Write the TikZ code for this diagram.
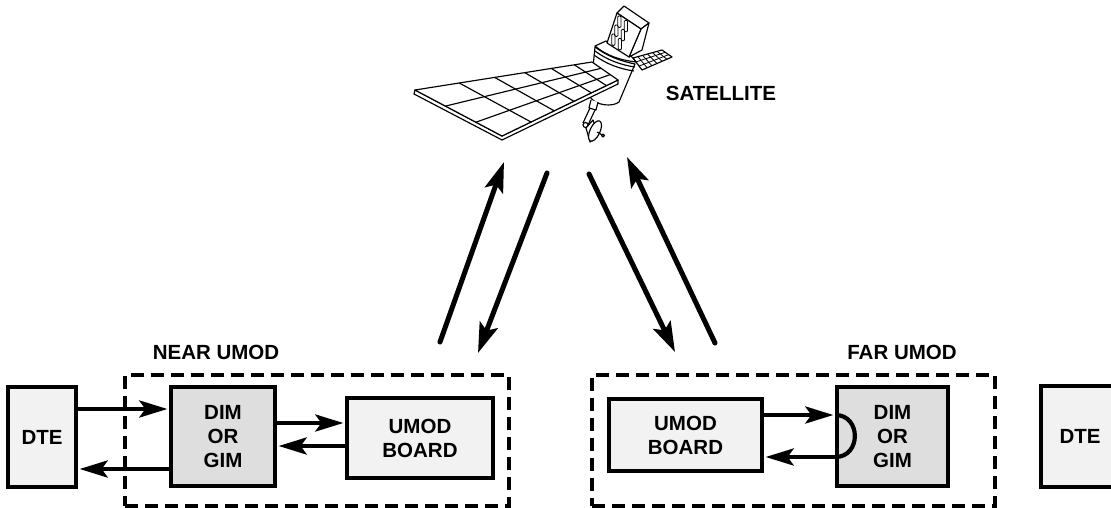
\documentclass[tikz,border=0pt]{standalone}
\usepackage{fontspec}
\setmainfont{Liberation Sans}
\usetikzlibrary{arrows.meta,calc}
\definecolor{boxpale}{gray}{0.95}
\definecolor{boxgray}{gray}{0.87}

\begin{document}
\begin{tikzpicture}[x=1pt,y=-1pt,
  lbl/.style={font=\bfseries\fontsize{20.5}{24}\selectfont},
  blk/.style={draw, line width=3.3pt, inner sep=0pt, align=center, lbl},
  pale/.style={blk, fill=boxpale},
  dark/.style={blk, fill=boxgray},
  group/.style={draw, line width=3.1pt, dash pattern=on 13pt off 7pt, inner sep=0pt},
  link/.style={line width=4.2pt, shorten >=2pt, -{Stealth[length=28pt,width=17pt,inset=6pt]}},
  beam/.style={line width=5pt, line cap=round, -{Stealth[length=30pt,width=19pt,inset=6pt]}},
  sat/.style={line width=1.15pt, line join=round},
  cell/.style={line width=0.8pt}]

\path[use as bounding box] (0,0) rectangle (1111,508);
\clip (0,0) rectangle (1111,508);

% ---------- satellite ----------
% small solar wing on the right
\coordinate (q1) at (633,58); \coordinate (q2) at (662,50);
\coordinate (q3) at (672,57); \coordinate (q4) at (642,70);
\draw[sat, fill=white] (q1)--(q2)--(q3)--(q4)--cycle;
\foreach \f in {0.17,0.33,0.5,0.67,0.83}
  \draw[cell] ($(q1)!\f!(q2)$) -- ($(q4)!\f!(q3)$);
\foreach \f in {0.33,0.67}
  \draw[cell] ($(q1)!\f!(q4)$) -- ($(q2)!\f!(q3)$);

% bus body
\draw[sat, fill=white] (595,47) -- (590,97) .. controls (596,106) and (613,107) .. (619,102)
  -- (635,64) .. controls (620,61) and (607,56) .. cycle;
% collar ring
\draw[sat, fill=white] (595,46) -- (606,41) -- (631,56) -- (636,62)
  .. controls (620,60) and (607,56) .. cycle;
\draw[sat] (595,51) .. controls (607,60) and (621,65) .. (635,67);
\draw[sat] (594,55) .. controls (606,64) and (620,69) .. (634,71);

% instrument box
\coordinate (f1) at (617,13); \coordinate (f2) at (641,29);
\coordinate (f3) at (629,57); \coordinate (f4) at (607,43);
\coordinate (t1) at (624,6);  \coordinate (r1) at (649,23);
\coordinate (r2) at (642,50);
\draw[sat, fill=white] (f1) -- (t1) -- (r1) -- (f2) -- cycle;
\draw[sat, fill=white] (f2) -- (r1) -- (r2) -- (f3) -- cycle;
\draw[sat, fill=white] (f1) -- (f2) -- (f3) -- (f4) -- cycle;
\begin{scope}[shift={(617,13)}, x={(24pt,-16pt)}, y={(-10pt,-30pt)}]
  \foreach \u in {0.06,0.33}
    \foreach \v in {0.07,0.37,0.67}
      \draw[cell, rounded corners=1pt] (\u,\v) rectangle ++(0.24,0.25);
\end{scope}

% main solar wing
\coordinate (A) at (415,90);  \coordinate (D) at (592,62);
\coordinate (C) at (618,80);  \coordinate (B) at (502,136);
\coordinate (A') at (414,94); \coordinate (B') at (502,140);
\coordinate (C') at (618,84);
\draw[sat, fill=white] (A) -- (A') -- (B') -- (C') -- (C) -- (B) -- cycle;
\draw[sat, fill=white] (A) -- (D) -- (C) -- (B) -- cycle;
\foreach \f in {0.25,0.45,0.62,0.77,0.9}
  \draw[sat] ($(A)!\f!(D)$) -- ($(B)!\f!(C)$);
\foreach \f in {0.35,0.7}
  \draw[sat] ($(A)!\f!(B)$) -- ($(D)!\f!(C)$);

% antenna
\draw[sat, fill=white] (591,100) -- (589,108) -- (596,110) -- (598,102);
\draw[sat] (590,108) -- (583,123);
\draw[sat] (595,110) -- (588,125);
\draw[sat, fill=white] (585.5,125) circle (2.5);
\draw[sat, fill=white] (586,128) -- (593,120) -- (598,135) -- (590,142) -- cycle;
\draw[sat, fill=white] (595,131) ellipse [x radius=5, y radius=11, rotate=-25];
\draw[sat] (597,132) -- (604,136);
\draw[sat, fill=white] (603,135.5) circle (1.5);

\node[lbl] (satlabel) at (721,93) {SATELLITE};

% ---------- radio links ----------
\coordinate (b1s) at (440,342); \coordinate (b1e) at (504,162);
\coordinate (b2s) at (547,173); \coordinate (b2e) at (478,353);
\coordinate (b3s) at (589,174); \coordinate (b3e) at (675,352);
\coordinate (b4s) at (715,343); \coordinate (b4e) at (627,157);
\draw[beam] (b1s) -- (b1e);
\draw[beam] (b2s) -- (b2e);
\draw[beam] (b3s) -- (b3e);
\draw[beam] (b4s) -- (b4e);

% ---------- near side ----------
\node[group, minimum width=384, minimum height=131] (near) at (317,440.5) {};
\node[lbl] (nearlabel) at (216,352) {NEAR UMOD};
\node[pale, minimum width=68, minimum height=100] (dteL) at (42,437) {DTE};
\node[dark, minimum width=104, minimum height=99] (dimL) at (223,436.5) {DIM\\OR\\GIM};
\node[pale, minimum width=146, minimum height=80] (umodL) at (420,438) {UMOD\\BOARD};

\coordinate (yA) at (0,409); \coordinate (yB) at (0,469);
\coordinate (yC) at (0,423); \coordinate (yD) at (0,446);
\draw[link] (dteL.east |- yA) -- (dimL.west |- yA);
\draw[link] (dimL.west |- yB) -- (dteL.east |- yB);
\draw[link] (dimL.east |- yC) -- (umodL.west |- yC);
\draw[link] (umodL.west |- yD) -- (dimL.east |- yD);

% ---------- far side ----------
\node[group, minimum width=403, minimum height=131] (far) at (793.5,440.5) {};
\node[lbl] (farlabel) at (902,352) {FAR UMOD};
\node[pale, minimum width=153, minimum height=72] (umodR) at (685.5,435) {UMOD\\BOARD};
\node[dark, minimum width=111, minimum height=99] (dimR) at (892.5,436.5) {DIM\\OR\\GIM};
% the right terminal runs past the page edge
\node[pale, minimum width=78, minimum height=101] (dteR) at (1080,436.5) {DTE};

\coordinate (yE) at (0,415); \coordinate (yF) at (0,457);
\draw[link] (umodR.east |- yE) -- (dimR.west |- yE);
\draw[line width=4.2pt] (dimR.west |- yE) .. controls +(26,0) and +(26,0) .. (dimR.west |- yF);
\draw[link] (dimR.west |- yF) -- (umodR.east |- yF);

\end{tikzpicture}
\end{document}
